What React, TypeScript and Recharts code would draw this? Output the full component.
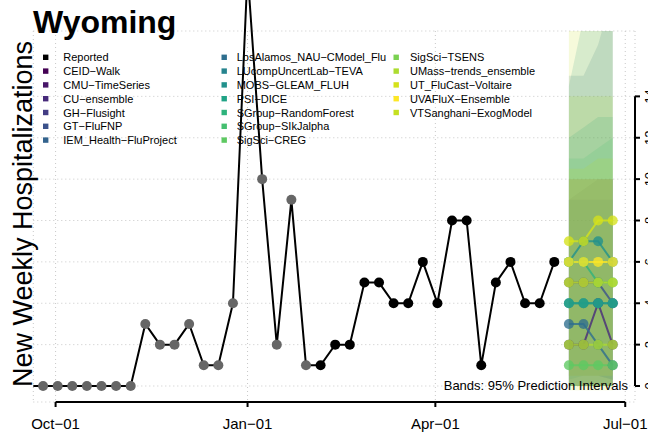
import React from 'react';
import { ComposedChart, LineChart, Line, Area, XAxis, YAxis, CartesianGrid, ReferenceLine } from 'recharts';

const FONT = "'Liberation Sans', Arial, Helvetica, sans-serif";
const ORIGIN = '2021-10-01';
const dayOf = (d: string) => Math.round((Date.parse(d) - Date.parse(ORIGIN)) / 86400000);

const tickDates = ['2021-10-01', '2022-01-01', '2022-04-01', '2022-07-01'];
const tickLabels = ['Oct\u221201', 'Jan\u221201', 'Apr\u221201', 'Jul\u221201'];
const yTicks = [0, 2, 4, 6, 8, 10, 12, 14];

const reportedDates = [
  '2021-09-18', '2021-09-25', '2021-10-02', '2021-10-09', '2021-10-16', '2021-10-23', '2021-10-30',
  '2021-11-06', '2021-11-13', '2021-11-20', '2021-11-27', '2021-12-04', '2021-12-11', '2021-12-18',
  '2021-12-25', '2022-01-01', '2022-01-08', '2022-01-15', '2022-01-22', '2022-01-29', '2022-02-05',
  '2022-02-12', '2022-02-19', '2022-02-26', '2022-03-05', '2022-03-12', '2022-03-19', '2022-03-26',
  '2022-04-02', '2022-04-09', '2022-04-16', '2022-04-23', '2022-04-30', '2022-05-07', '2022-05-14',
  '2022-05-21', '2022-05-28',
];
const reportedValues = [
  0, 0, 0, 0, 0, 0, 0,
  0, 3, 2, 2, 3, 1, 1,
  4, 20, 10, 2, 9, 1, 1,
  2, 2, 5, 5, 4, 4, 6,
  4, 8, 8, 1, 5, 6, 4,
  4, 6,
];
const revisedThrough = '2022-01-29';

const forecastDates = ['2022-06-04', '2022-06-11', '2022-06-18', '2022-06-25'];

const modelNames = [
  'CEID-Walk', 'CMU-TimeSeries', 'CU-ensemble', 'GH-Flusight', 'GT-FluFNP', 'IEM_Health-FluProject',
  'LosAlamos_NAU-CModel_Flu', 'LUcompUncertLab-TEVA', 'MOBS-GLEAM_FLUH', 'PSI-DICE', 'SGroup-RandomForest',
  'SGroup-SIkJalpha', 'SigSci-CREG', 'SigSci-TSENS', 'UMass-trends_ensemble', 'UT_FluCast-Voltaire',
  'UVAFluX-Ensemble', 'VTSanghani-ExogModel',
];
const modelColors = [
  '#440154', '#481769', '#472A7A', '#433D84', '#3B528B', '#33638D',
  '#2E6E8E', '#26848E', '#21918C', '#20A386', '#2EB37C',
  '#45BF70', '#5EC962', '#7AD151', '#ADDC30', '#D5E21A',
  '#FDE725', '#C5E021',
];
const colorOf = (n: string) => modelColors[modelNames.indexOf(n)];

// point forecasts (4 weeks ahead)
const fcCU = [2, 2, 4, 2];
const fcGT = [5, 5, 5, 4];
const fcLosAlamos = [3, 3, 2, 1];
const fcLUcomp = [4, 4, 4, 4];
const fcMOBS = [6, 7, 7, 6];
const fcPSI = [4, 4, 4, 4];
const fcSGroupRF = [6, 6, 5, 5];
const fcCREG = [1, 1, 1, 1];
const fcUMass = [2, 2, 2, 2];
const fcUT = [7, 7, 8, 8];
const fcUVA = [6, 6, 6, 6];
const fcVT = [5, 5, 5, 5];

// 95% interval bands: lower / upper
const loIEM = [0, 0, 0, 0];           const hiIEM = [9, 9, 9, 9];
const loSIk = [0, 0, 0, 0];           const hiSIk = [11, 11, 11.5, 12];
const loGH = [0, 0, 0, 0];            const hiGH = [10, 10, 10, 10];
const loMOBS = [0.3, 0.5, 0.5, 0.3];  const hiMOBS = [14.5, 17.8, 20, 22];
const loLosAlamos = [0, 0, 0, 0];     const hiLosAlamos = [15, 15, 16.5, 19];
const loVT = [-0.2, -0.2, -0.2, -0.2]; const hiVT = [19, 20, 22, 24];
const loPSI = [0, 0, 0, 0];           const hiPSI = [12, 12.5, 13, 13];
const loGT = [0.5, 0.5, 0.5, 0.3];    const hiGT = [10, 10, 10, 10];
const loUT = [0.5, 0.5, 0.5, 0.5];    const hiUT = [10.5, 10.5, 11, 11];
const loUMass = [0, 0, 0, 0];         const hiUMass = [14, 14, 14, 14];
const loCU = [0, 0, 0, 0];            const hiCU = [9, 9.5, 10, 10];
const loUVA = [0, 0, 0, 0];           const hiUVA = [10, 10, 10, 10];

const forecastSeries: [string, number[]][] = [
  ['CU-ensemble', fcCU], ['GT-FluFNP', fcGT], ['LosAlamos_NAU-CModel_Flu', fcLosAlamos],
  ['LUcompUncertLab-TEVA', fcLUcomp], ['MOBS-GLEAM_FLUH', fcMOBS], ['PSI-DICE', fcPSI],
  ['SGroup-RandomForest', fcSGroupRF], ['SigSci-CREG', fcCREG], ['UMass-trends_ensemble', fcUMass],
  ['UT_FluCast-Voltaire', fcUT], ['UVAFluX-Ensemble', fcUVA], ['VTSanghani-ExogModel', fcVT],
];
// drawing order of the interval bands (first = bottom)
const bandSeries: [string, number[], number[]][] = [
  ['IEM_Health-FluProject', loIEM, hiIEM], ['CU-ensemble', loCU, hiCU], ['GH-Flusight', loGH, hiGH],
  ['MOBS-GLEAM_FLUH', loMOBS, hiMOBS], ['LosAlamos_NAU-CModel_Flu', loLosAlamos, hiLosAlamos],
  ['VTSanghani-ExogModel', loVT, hiVT], ['PSI-DICE', loPSI, hiPSI], ['GT-FluFNP', loGT, hiGT],
  ['UT_FluCast-Voltaire', loUT, hiUT], ['UMass-trends_ensemble', loUMass, hiUMass],
  ['SGroup-SIkJalpha', loSIk, hiSIk], ['UVAFluX-Ensemble', loUVA, hiUVA],
];

const X_DOMAIN: [number, number] = [-10.68, 277.68];
const Y_MIN = -0.773;
const Y_DOMAIN_A: [number, number] = [Y_MIN, 17.16];
const Y_DOMAIN_B: [number, number] = [Y_MIN, 22.042];

const tickDays = tickDates.map(dayOf);

const reportedRows = reportedDates.map((d, i) => ({
  day: dayOf(d),
  value: reportedValues[i],
  old: d <= revisedThrough ? reportedValues[i] : null,
  recent: d > revisedThrough ? reportedValues[i] : null,
}));

const forecastRows = forecastDates.map((d, k) => {
  const row: any = { day: dayOf(d), fc: {}, band: {} };
  forecastSeries.forEach(([n, v]) => { row.fc[n] = v[k]; });
  bandSeries.forEach(([n, lo, hi]) => { row.band[n] = [lo[k], hi[k]]; });
  return row;
});

const legendCols: string[][] = [
  ['Reported', ...modelNames.slice(0, 6)],
  modelNames.slice(6, 13),
  modelNames.slice(13),
];
const legendSwatchX = [43, 221.5, 393.5];
const legendTextX = [63.3, 236.7, 410];

const disp = (s: string) => s.replace(/-/g, '\u2212');

const RightTick = (props: any) => {
  const { x, y, payload } = props;
  return (
    <text transform={`translate(${x},${y}) rotate(-90)`} textAnchor="middle" fontSize={13} fontFamily={FONT} fill="#000">
      {payload.value}
    </text>
  );
};

export default function App() {
  return (
    <div style={{ position: 'absolute', left: 0, top: 0, width: 648, height: 435, overflow: 'hidden', background: '#fff' }}>
      <div style={{ position: 'absolute', left: 0, top: 0 }}>
        <ComposedChart width={648} height={435} data={forecastRows} margin={{ top: 31, right: 0, bottom: 0, left: 33.3 }}>
          <CartesianGrid stroke="#c8c8c8" strokeDasharray="1 3" />
          <XAxis
            type="number"
            dataKey="day"
            domain={X_DOMAIN}
            ticks={tickDays}
            interval={0}
            height={33}
            axisLine={false}
            tickSize={5}
            tickMargin={11}
            tickLine={{ stroke: '#000', strokeWidth: 2 }}
            tick={{ fontSize: 15, fill: '#000', fontFamily: FONT }}
            tickFormatter={(v: number) => tickLabels[tickDays.indexOf(v)]}
          />
          <YAxis
            orientation="right"
            type="number"
            domain={Y_DOMAIN_A}
            allowDataOverflow
            ticks={yTicks}
            interval={0}
            width={13}
            axisLine={false}
            tickSize={5}
            tickMargin={14}
            tickLine={{ stroke: '#000', strokeWidth: 2 }}
            tick={<RightTick />}
          />
          {bandSeries.map(([n]) => (
            <Area
              key={'band-' + n}
              type="linear"
              dataKey={(r: any) => r.band[n]}
              stroke="none"
              fill={colorOf(n)}
              fillOpacity={0.16}
              dot={false}
              activeDot={false}
              isAnimationActive={false}
            />
          ))}
          {forecastSeries.map(([n]) => (
            <Line
              key={'fc-' + n}
              type="linear"
              dataKey={(r: any) => r.fc[n]}
              stroke={colorOf(n)}
              strokeWidth={2}
              strokeOpacity={0.8}
              dot={{ r: 5, fill: colorOf(n), fillOpacity: 0.78, stroke: 'none' }}
              activeDot={false}
              isAnimationActive={false}
            />
          ))}
          <ReferenceLine
            segment={[{ x: tickDays[0], y: Y_MIN }, { x: tickDays[3], y: Y_MIN }]}
            stroke="#000"
            strokeWidth={2}
            ifOverflow="visible"
          />
          <ReferenceLine
            segment={[{ x: X_DOMAIN[1], y: 0 }, { x: X_DOMAIN[1], y: 14 }]}
            stroke="#000"
            strokeWidth={2}
            ifOverflow="visible"
          />
        </ComposedChart>
      </div>

      <svg width={648} height={435} style={{ position: 'absolute', left: 0, top: 0 }} fontFamily={FONT}>
        <text x={33} y={33.3} fontSize={32} fontWeight="bold" fill="#000">Wyoming</text>
        <text transform="translate(32,214) rotate(-90)" textAnchor="middle" fontSize={27} fill="#000">
          New Weekly Hospitalizations
        </text>
        {legendCols.map((col, ci) =>
          col.map((n, ri) => {
            const cy = 57.3 + 13.8 * ri;
            const c = n === 'Reported' ? '#000' : colorOf(n);
            return (
              <g key={n}>
                <rect x={legendSwatchX[ci]} y={cy - 2.7} width={5.4} height={5.4} fill={c} />
                <text x={legendTextX[ci]} y={cy + 4} fontSize={11} fill="#000">{disp(n)}</text>
              </g>
            );
          })
        )}
        <text x={628} y={389.5} textAnchor="end" fontSize={13} fill="#000">Bands: 95% Prediction Intervals</text>
      </svg>

      <div style={{ position: 'absolute', left: 0, top: -70 }}>
        <LineChart width={648} height={505} data={reportedRows} margin={{ top: 0, right: 13, bottom: 33, left: 33.3 }}>
          <XAxis type="number" dataKey="day" domain={X_DOMAIN} allowDataOverflow hide />
          <YAxis type="number" domain={Y_DOMAIN_B} allowDataOverflow hide />
          <Line
            type="linear"
            dataKey="old"
            stroke="none"
            dot={{ r: 5, fill: '#666666', stroke: 'none' }}
            activeDot={false}
            isAnimationActive={false}
          />
          <Line
            type="linear"
            dataKey="value"
            stroke="#000"
            strokeWidth={2}
            dot={false}
            activeDot={false}
            isAnimationActive={false}
          />
          <Line
            type="linear"
            dataKey="recent"
            stroke="none"
            dot={{ r: 5, fill: '#000', stroke: 'none' }}
            activeDot={false}
            isAnimationActive={false}
          />
        </LineChart>
      </div>
    </div>
  );
}
